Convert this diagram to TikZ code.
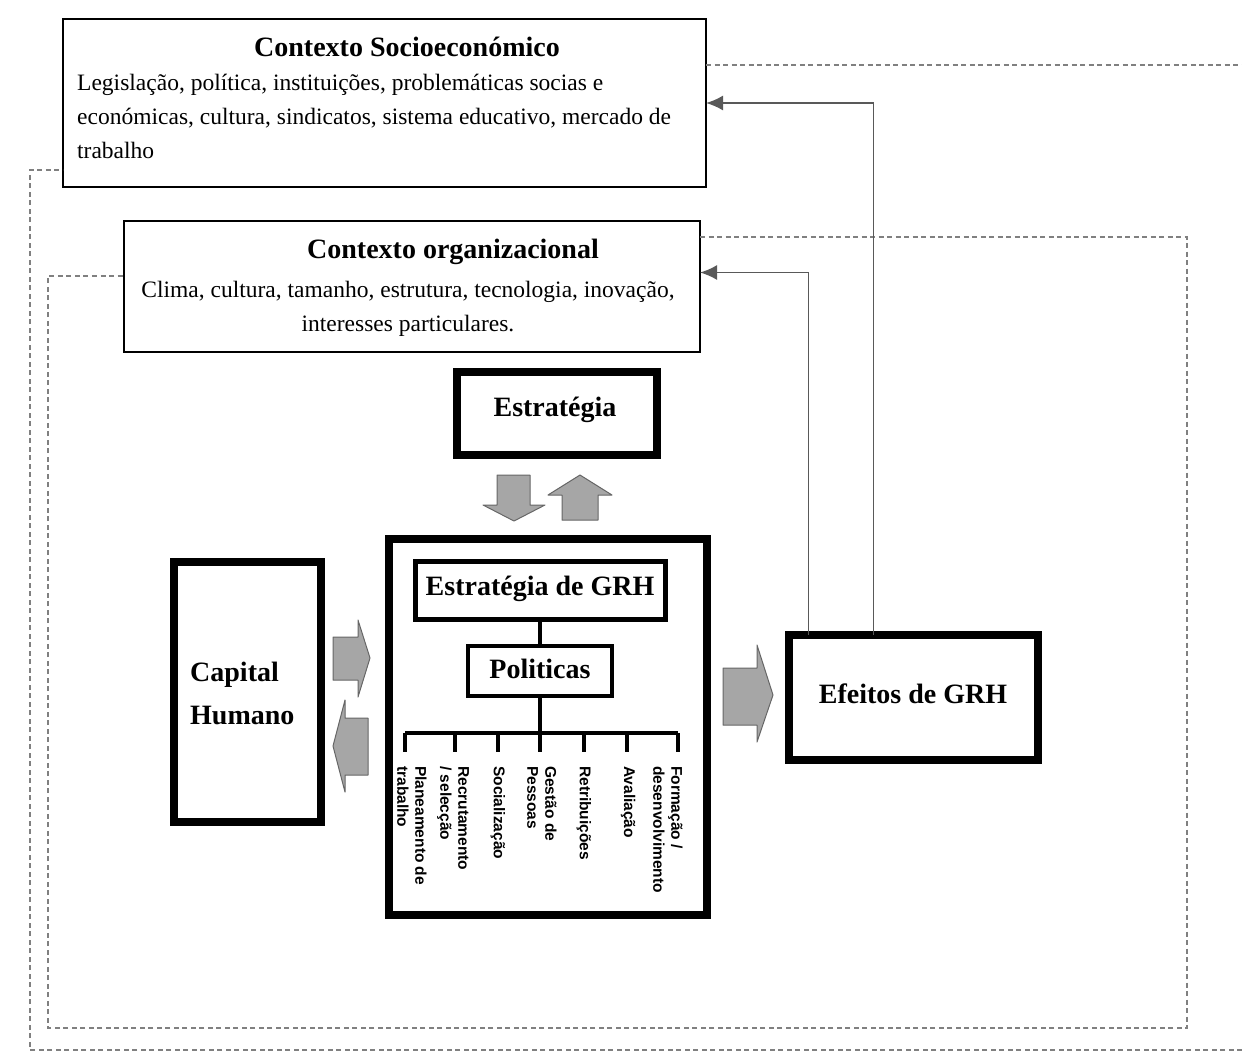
\documentclass[tikz,border=0pt]{standalone}
\usepackage{fontspec}
\setmainfont{Liberation Serif}
\newfontfamily\labfont{Liberation Sans}
\usetikzlibrary{arrows.meta}

\begin{document}
\begin{tikzpicture}[x=1pt,y=-1pt,
  boxbase/.style={draw=black,fill=white,inner sep=0pt,outer sep=0pt,anchor=north west},
  ctxbox/.style={boxbase,line width=1.8pt},
  thickbox/.style={boxbase,line width=8pt},
  midbox/.style={boxbase,line width=5pt},
  thinbox/.style={boxbase,line width=4pt},
  ttl/.style={font=\bfseries\fontsize{28}{32}\selectfont,inner sep=0pt},
  bodytxt/.style={font=\fontsize{23.5}{34}\selectfont,inner sep=0pt},
  loop/.style={draw=black!50,line width=2pt,dash pattern=on 5pt off 3.5pt},
  feedback/.style={draw=black!65,line width=1.8pt,-{Latex[length=17pt,width=15pt]}},
  blockarrow/.style={fill=black!35,draw=black!60,line width=1pt,line join=round},
  tree/.style={draw=black,line width=4pt},
  polname/.style={font=\labfont\bfseries\fontsize{15.5}{18}\selectfont,rotate=-90,anchor=west,align=left,inner sep=0pt}
]
\useasboundingbox (0,0) rectangle (1242,1053);

% context boxes
\node[ctxbox,minimum width=643,minimum height=168] (soc) at (63,19) {};
\node[ttl] at (407,47) {Contexto Socioeconómico};
\node[bodytxt,anchor=north west,align=left] at (77,74)
  {Legislação, política, instituições, problemáticas socias e\\
   económicas, cultura, sindicatos, sistema educativo, mercado de\\
   trabalho};

\node[ctxbox,minimum width=576,minimum height=131] (org) at (124,221) {};
\node[ttl] at (453,252) {Contexto organizacional};
\node[bodytxt,anchor=north,align=center] at (408,281)
  {Clima, cultura, tamanho, estrutura, tecnologia, inovação,\\
   interesses particulares.};

% dashed feedback loops
\draw[loop] (soc.east |- 0,65) -- (1242,65);
\draw[loop] (1242,1050) -- (30,1050) -- (30,170) -- (soc.west |- 0,170);
\draw[loop] (org.east |- 0,237) -- (1187,237) -- (1187,1028) -- (48,1028) -- (48,276) -- (org.west |- 0,276);

% strategy
\node[thickbox,minimum width=200,minimum height=83] (est) at (457,372) {};
\node[ttl] at (555,410) {Estratégia};

% central HRM block
\node[thickbox,minimum width=318,minimum height=376] (grh) at (389,539) {};
\node[midbox,minimum width=250,minimum height=58] (egrh) at (415,561) {};
\node[ttl] at (540,589) {Estratégia de GRH};
\node[thinbox,minimum width=144,minimum height=50] (pol) at (468,646) {};
\node[ttl] at (540,669) {Politicas};

\draw[tree] (egrh.south) -- (pol.north);
\draw[tree] (pol.south) -- (540,733);
\draw[tree] (405,733) -- (678,733);
\foreach \t in {405,455,498,540,584,627,678}
  \draw[tree] (\t,733) -- (\t,752);

\node[polname] at (412,766) {Planeamento de\\trabalho};
\node[polname] at (453,766) {Recrutamento\\/ selecção};
\node[polname] at (498,766) {Socialização};
\node[polname] at (542,766) {Gestão de\\Pessoas};
\node[polname] at (584,766) {Retribuições};
\node[polname] at (628,766) {Avaliação};
\node[polname] at (668,766) {Formação /\\desenvolvimento};

% human capital and effects
\node[thickbox,minimum width=147,minimum height=260] (cap) at (174,562) {};
\node[ttl,anchor=west,align=left,font=\bfseries\fontsize{28}{43}\selectfont] at (190,693) {Capital\\Humano};

\node[thickbox,minimum width=249,minimum height=125] (eff) at (789,635) {};
\node[ttl] at (913,694) {Efeitos de GRH};

% feedback connectors to the contexts
\draw[feedback] ([xshift=-40pt]eff.north) |- (soc.east);
\draw[feedback] ([xshift=-105pt]eff.north) |- ([yshift=14pt]org.east);

% block arrows
\draw[blockarrow] (497,475) -- (530,475) -- (530,505) -- (545,505) -- (514,521) -- (483,505) -- (497,505) -- cycle;
\draw[blockarrow] (562,520) -- (598,520) -- (598,495) -- (612,495) -- (580,475) -- (548,495) -- (562,495) -- cycle;
\draw[blockarrow] (333,637) -- (358,637) -- (358,620) -- (370,658) -- (358,697) -- (358,680) -- (333,680) -- cycle;
\draw[blockarrow] (368,718) -- (345,718) -- (345,700) -- (333,746) -- (345,792) -- (345,775) -- (368,775) -- cycle;
\draw[blockarrow] (723,668) -- (757,668) -- (757,645) -- (773,695) -- (757,742) -- (757,725) -- (723,725) -- cycle;
\end{tikzpicture}
\end{document}
